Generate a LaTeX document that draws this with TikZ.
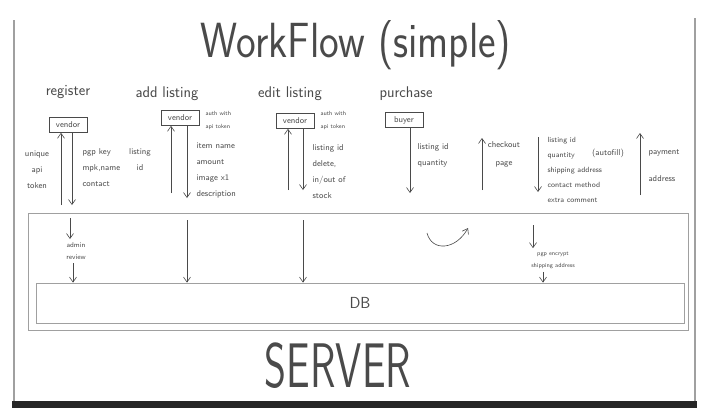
\documentclass[tikz,border=0pt]{standalone}
\usepackage{tikz}
\usetikzlibrary{arrows.meta,positioning}
\definecolor{pen}{HTML}{4A4A4A}
\definecolor{edge}{HTML}{A0A0A0}

\begin{document}
\begin{tikzpicture}[x=1pt, y=-1pt,
  every node/.style={text=pen, font=\sffamily},
  head/.style={font=\sffamily\fontsize{15.5}{18}\selectfont},
  note/.style={font=\sffamily\fontsize{8.5}{16}\selectfont, align=left},
  small/.style={font=\sffamily\fontsize{6}{13}\selectfont, align=left},
  actor/.style={draw=pen, semithick, font=\sffamily\fontsize{8.5}{10}\selectfont, minimum width=38pt, minimum height=15pt, inner sep=1pt},
  frame/.style={draw=edge, thick, inner sep=0pt},
  line/.style={draw=pen, semithick, -{Straight Barb[length=5pt,width=7pt]}}
]
\useasboundingbox (0,0) rectangle (712,416);
\fill[white] (0,0) rectangle (712,416);
\draw[edge, line width=1.5pt] (14,20) -- (14,402);
\draw[edge, line width=1.5pt] (695,18) -- (695,402);
\fill[black!85] (12,401) rectangle (697,408);

\node (ttl) at (356,45) {\fontsize{38}{44}\selectfont\scalebox{1.1}[1.3]{WorkFlow (simple)}};

\node[frame, minimum width=660pt, minimum height=117pt] (srv) at (358,271.5) {};
\node[frame, minimum width=648pt, minimum height=40pt] (db) at (360,303) {\fontsize{16}{18}\selectfont DB};
\node (srvname) at (338,366) {\fontsize{60}{62}\selectfont\scalebox{0.7}[1.05]{SERVER}};

\node[head] (reg) at (68,92) {register};
\node[actor] (regV) at (68,125) {vendor};
\node[note, align=center] (regL) at (37,170) {unique\\api\\token};
\node[note, anchor=west] (regR) at (79,168) {pgp key\\mpk,name\\contact};
\coordinate (regUp) at (61,205);
\coordinate (regDn) at (72,205);
\draw[line] (regUp) -- (regUp |- regV.south);
\draw[line] (regDn |- regV.south) -- (regDn);

\node[head] (add) at (167,94) {add listing};
\node[actor] (addV) at (180,118) {vendor};
\node[small, anchor=west] (addA) at (202,120) {auth with\\api token};
\node[note, align=center] (addL) at (140,160) {listing\\id};
\node[note, anchor=west] (addR) at (193,171) {item name\\amount\\image x1\\description};
\coordinate (addUp) at (171,193);
\coordinate (addDn) at (187,198);
\draw[line] (addUp) -- (addUp |- addV.south);
\draw[line] (addDn |- addV.south) -- (addDn);

\node[head] (edit) at (290,94) {edit listing};
\node[actor] (editV) at (295,121) {vendor};
\node[small, anchor=west] (editA) at (317,120) {auth with\\api token};
\node[note, anchor=west] (editR) at (309,172) {listing id\\delete,\\in/out of\\stock};
\coordinate (editUp) at (288,190);
\coordinate (editDn) at (303,190);
\draw[line] (editUp) -- (editUp |- editV.south);
\draw[line] (editDn |- editV.south) -- (editDn);

\node[head] (buy) at (406,94) {purchase};
\node[actor] (buyV) at (404,120) {buyer};
\node[note, anchor=west] (buyR) at (414,155) {listing id\\quantity};
\coordinate (buyDn) at (410,193);
\draw[line] (buyDn |- buyV.south) -- (buyDn);

\node[note, align=center, font=\sffamily\fontsize{8.5}{18}\selectfont] (chk) at (504,154) {checkout\\page};
\coordinate (chkUp) at (482,190);
\coordinate (chkTop) at (482,138);
\draw[line] (chkUp) -- (chkTop);

\node[note, anchor=north west, font=\sffamily\fontsize{7.5}{15}\selectfont] (ord) at (544,134) {listing id\\quantity\\shipping address\\contact method\\extra comment};
\node[note] (auto) at (608,153) {(autofill)};
\coordinate (ordTop) at (538,137);
\coordinate (ordBot) at (538,192);
\draw[line] (ordTop) -- (ordBot);

\node[note, anchor=west, font=\sffamily\fontsize{8.5}{27}\selectfont] (pay) at (645,166) {payment\\address};
\coordinate (payUp) at (640,195);
\coordinate (payTop) at (640,133);
\draw[line] (payUp) -- (payTop);

\node[note, align=center, font=\sffamily\fontsize{7}{12}\selectfont] (adm) at (76,251) {admin\\review};
\coordinate (admTop) at (70,218);
\draw[line] (admTop) -- (adm.north -| admTop);
\draw[line] (adm.south -| 73,0) -- (db.north -| 73,0);

\coordinate (addIn) at (187,220);
\draw[line] (addIn) -- (db.north -| addIn);
\coordinate (editIn) at (303,220);
\draw[line] (editIn) -- (db.north -| editIn);

\coordinate (loopA) at (427,233);
\coordinate (loopB) at (468,228);
\draw[line] (loopA) .. controls (432,252) and (456,250) .. (loopB);

\node[note, align=center, font=\sffamily\fontsize{6}{12}\selectfont] (enc) at (553,260) {pgp encrypt\\shipping address};
\coordinate (encTop) at (533,225);
\draw[line] (encTop) -- (enc.north -| encTop);
\draw[line] (enc.south -| 543,0) -- (db.north -| 543,0);
\end{tikzpicture}
\end{document}
